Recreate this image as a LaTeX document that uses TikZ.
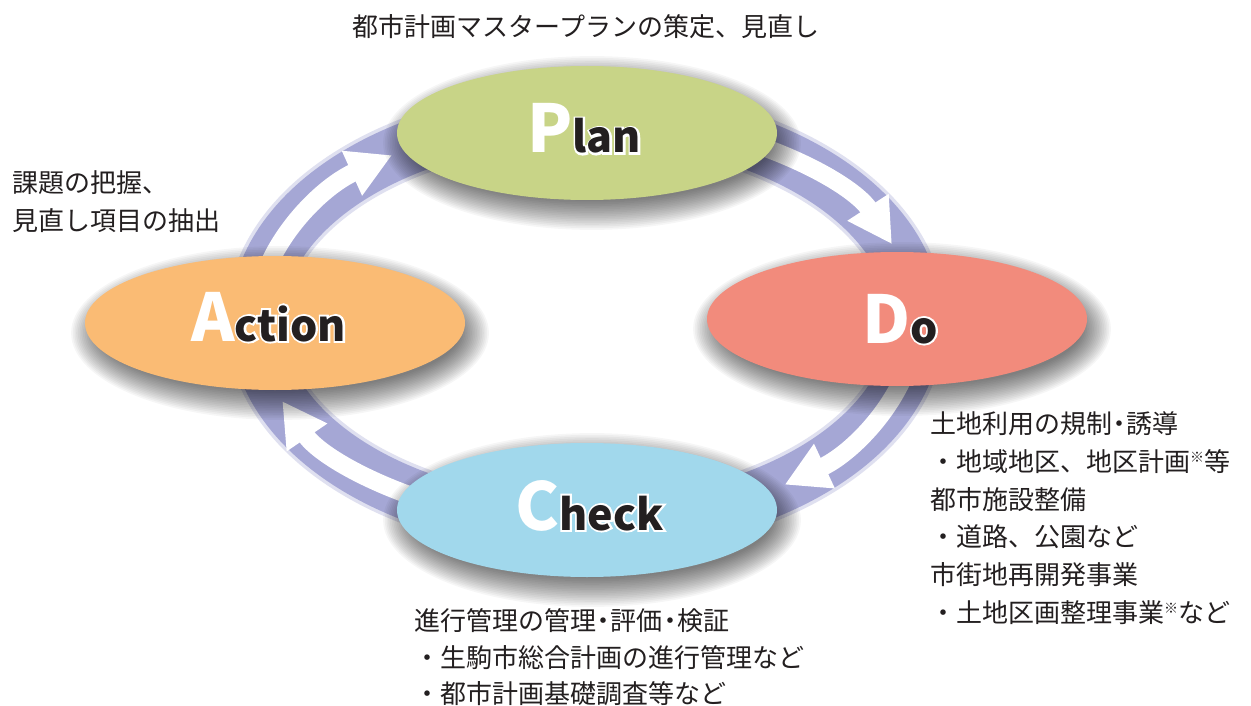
\documentclass[tikz,border=0pt]{standalone}
\usepackage{fontspec}
\setmainfont{Noto Sans CJK JP}
\newfontfamily\latinbig{Noto Sans CJK JP}
\newfontfamily\latinout{Noto Sans CJK JP}[FakeBold=9]
\usetikzlibrary{shapes.geometric,arrows.meta,calc}
\definecolor{bandcol}{HTML}{A5A7D5}
\definecolor{plancol}{HTML}{C8D487}
\definecolor{docol}{HTML}{F28B7C}
\definecolor{actcol}{HTML}{FABB74}
\definecolor{chkcol}{HTML}{A1D8EC}
\definecolor{txtcol}{HTML}{231F20}
\newcommand\biglab[2]{{\fontsize{66}{66}\selectfont #1}{\fontsize{43}{43}\selectfont #2}}
\newcommand\nkdot{\kern-.22em・\kern-.22em}
\newcommand\kome{\raisebox{9pt}{\fontsize{14}{14}\selectfont ※}}
\tikzset{
  phase/.style={ellipse, minimum width=380pt, minimum height=134pt, inner sep=0pt},
  flow/.style={white, line width=18pt, -{Triangle[width=46pt,length=44pt]}},
  outl/.style={anchor=base west, inner sep=0pt, text=white, font=\latinout\bfseries},
  lab/.style={anchor=base west, inner sep=0pt, text=txtcol, font=\latinbig\bfseries},
  jp/.style={anchor=base west, inner sep=0pt, text=txtcol, font=\fontsize{26}{26}\selectfont}
}
\newcommand\phaselabel[5]{%
  \node[outl] (#1o) at (#2,#3) {\biglab{\phantom{#4}}{#5}};
  \node[lab] (#1) at (#2,#3) {\biglab{\textcolor{white}{#4}}{#5}};}
\newcommand\softshadow[1]{%
  \foreach \i in {0,...,17}{\fill[black, opacity=0.034] ($(#1)+(5,-10)$) ellipse[x radius=180+1.7*\i, y radius=58+1.7*\i];}}
\begin{document}
\begin{tikzpicture}[x=1pt,y=1pt]
\useasboundingbox (0,0) rectangle (1251,-706);
\fill[white] (0,0) rectangle (1251,-706);
\coordinate (C) at (586,-321);
% ring band
\draw[bandcol, opacity=0.35, line width=60pt] (C) ellipse[x radius=330, y radius=205];
\draw[bandcol, line width=53pt] (C) ellipse[x radius=330, y radius=205];
% arrows along the ring
\coordinate (a1) at ($(C)+(75:330 and 205)$);
\coordinate (a2) at ($(C)+(-10:330 and 205)$);
\coordinate (a3) at ($(C)+(-105:330 and 205)$);
\coordinate (a4) at ($(C)+(170:330 and 205)$);
\draw[flow] (a1) arc[start angle=75, end angle=22, x radius=330, y radius=205];
\draw[flow] (a2) arc[start angle=-10, end angle=-53, x radius=330, y radius=205];
\draw[flow] (a3) arc[start angle=-105, end angle=-157, x radius=330, y radius=205];
\draw[flow] (a4) arc[start angle=170, end angle=126, x radius=330, y radius=205];
% phase ellipse centres and shadows
\coordinate (pc) at (587,-133);
\coordinate (dc) at (897,-319);
\coordinate (ac) at (275,-323);
\coordinate (cc) at (587,-510);
\softshadow{pc}\softshadow{dc}\softshadow{ac}\softshadow{cc}
% phase ellipses
\node[phase, fill=plancol] (plan) at (pc) {};
\node[phase, fill=docol] (do) at (dc) {};
\node[phase, fill=actcol] (act) at (ac) {};
\node[phase, fill=chkcol] (chk) at (cc) {};
% labels
\phaselabel{plantxt}{527}{-153}{P}{lan}
\phaselabel{dotxt}{862}{-343}{D}{o}
\phaselabel{acttxt}{191}{-341}{A}{ction}
\phaselabel{chktxt}{515}{-530}{C}{heck}
% texts
\node[jp, anchor=base] (title) at (586,-37) {都市計画マスタープランの策定、見直し};
\node[jp] (l1) at (12,-193) {課題の把握、};
\node[jp] (l2) at (12,-230) {見直し項目の抽出};
\node[jp] (r1) at (930,-433) {土地利用の規制\nkdot 誘導};
\node[jp] (r2) at (930,-471) {・地域地区、地区計画\kome 等};
\node[jp] (r3) at (930,-509) {都市施設整備};
\node[jp] (r4) at (930,-546) {・道路、公園など};
\node[jp] (r5) at (930,-584) {市街地再開発事業};
\node[jp] (r6) at (930,-622) {・土地区画整理事業\kome など};
\node[jp] (b1) at (414,-630) {進行管理の管理\nkdot 評価\nkdot 検証};
\node[jp] (b2) at (414,-667) {・生駒市総合計画の進行管理など};
\node[jp] (b3) at (414,-703) {・都市計画基礎調査等など};
\end{tikzpicture}
\end{document}
